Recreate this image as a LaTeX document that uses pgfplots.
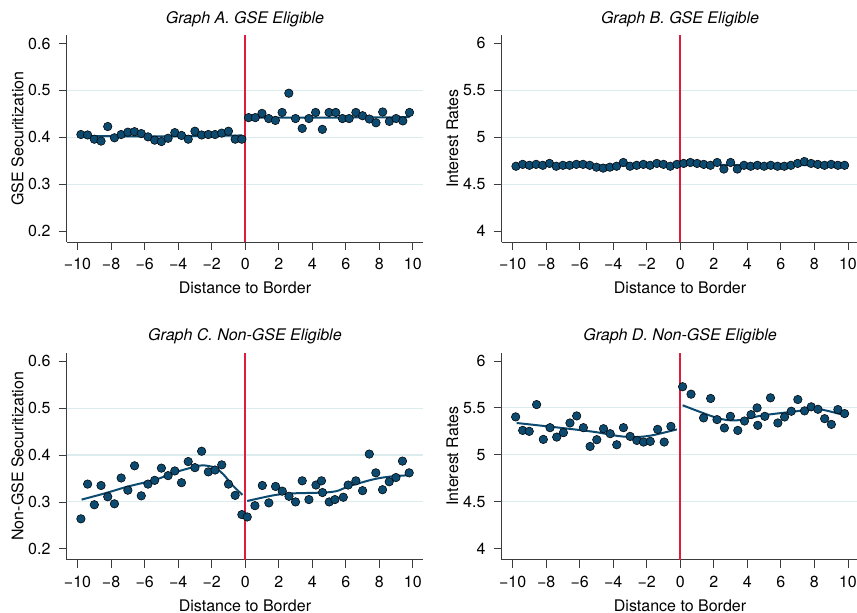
\documentclass[12pt,border=0pt]{standalone}
\usepackage{fontspec}
\setmainfont{TeX Gyre Heros}
\usepackage{pgfplots}
\pgfplotsset{compat=1.18}
\definecolor{dot}{RGB}{12,74,112}
\definecolor{gridc}{RGB}{220,235,238}
\definecolor{axc}{RGB}{60,60,60}
\definecolor{vred}{RGB}{222,28,62}

\pgfplotsset{
 panel/.style={
  scale only axis, width=267.45pt, height=155.25pt,
  anchor=north west,
  xmin=-10.65, xmax=10.62,
  axis x line*=bottom, axis y line*=left,
  axis line style={-, axc, line width=0.6pt},
  tick align=outside, major tick length=6pt,
  tick style={axc, line width=0.6pt},
  xtick={-10,-8,...,10},
  xticklabels={−10,−8,−6,−4,−2,0,2,4,6,8,10},
  xticklabel style={anchor=base, inner sep=0pt, yshift=-14.75pt},
  yticklabel style={anchor=east, inner sep=0pt, xshift=-6pt},
  /pgf/number format/assume math mode=true,
  xlabel={Distance to Border},
  xlabel style={at={(axis description cs:0.5,-0.221)}, anchor=center},
  ylabel style={at={(axis description cs:-0.138,0.5)}, anchor=center},
  title style={at={(axis description cs:0.5,1.039)}, anchor=center, font=\itshape},
 },
 sec/.style={panel, ymin=0.177, ymax=0.618, ytick={0.2,0.3,0.4,0.5,0.6},
  yticklabels={0.2,0.3,0.4,0.5,0.6}},
 rate/.style={panel, ymin=3.883, ymax=6.088, ytick={4,4.5,5,5.5,6},
  yticklabels={4,4.5,5,5.5,6}},
 pts/.style={only marks, mark=*, mark size=3.2pt, mark options={draw=none, fill=dot}},
 fit/.style={color=dot, line width=1.5pt, smooth, no marks},
 gl/.style={color=gridc, line width=0.8pt, forget plot, no marks},
 vl/.style={color=vred, line width=1.3pt, forget plot, no marks},
}

\begin{document}
\begin{tikzpicture}
% ---------------- Graph A
\begin{axis}[sec, at={(50.0pt,-26.25pt)}, title={Graph A. GSE Eligible}, ylabel={GSE Securitization}]
\addplot[gl] coordinates {(-10.65,0.3) (10.62,0.3)};
\addplot[gl] coordinates {(-10.65,0.4) (10.62,0.4)};
\addplot[gl] coordinates {(-10.65,0.5) (10.62,0.5)};
\addplot[vl] coordinates {(0,0.177) (0,0.618)};
\addplot[pts] table[row sep=\\] {
x y\\
-9.8 0.406\\ -9.4 0.405\\ -9.0 0.396\\ -8.6 0.392\\ -8.2 0.423\\
-7.8 0.399\\ -7.4 0.406\\ -7.0 0.411\\ -6.6 0.412\\ -6.2 0.408\\
-5.8 0.401\\ -5.4 0.394\\ -5.0 0.391\\ -4.6 0.398\\ -4.2 0.410\\
-3.8 0.404\\ -3.4 0.396\\ -3.0 0.413\\ -2.6 0.405\\ -2.2 0.406\\
-1.8 0.406\\ -1.4 0.409\\ -1.0 0.413\\ -0.6 0.396\\ -0.2 0.396\\
};
\addplot[pts] table[row sep=\\] {
x y\\
0.2 0.442\\ 0.6 0.442\\ 1.0 0.451\\ 1.4 0.440\\ 1.8 0.436\\
2.2 0.453\\ 2.6 0.494\\ 3.0 0.440\\ 3.4 0.419\\ 3.8 0.440\\
4.2 0.453\\ 4.6 0.417\\ 5.0 0.453\\ 5.4 0.453\\ 5.8 0.440\\
6.2 0.440\\ 6.6 0.453\\ 7.0 0.446\\ 7.4 0.439\\ 7.8 0.431\\
8.2 0.454\\ 8.6 0.434\\ 9.0 0.440\\ 9.4 0.435\\ 9.8 0.453\\
};
\addplot[fit] coordinates {(-9.8,0.403) (-5,0.402) (-0.2,0.404)};
\addplot[fit] coordinates {(0.2,0.442) (5,0.442) (9.8,0.443)};
\end{axis}
% ---------------- Graph B
\begin{axis}[rate, at={(376.3pt,-26.25pt)}, title={Graph B. GSE Eligible}, ylabel={Interest Rates}]
\addplot[gl] coordinates {(-10.65,4.5) (10.62,4.5)};
\addplot[gl] coordinates {(-10.65,5) (10.62,5)};
\addplot[gl] coordinates {(-10.65,5.5) (10.62,5.5)};
\addplot[vl] coordinates {(0,3.883) (0,6.088)};
\addplot[pts] table[row sep=\\] {
x y\\
-9.8 4.69\\ -9.4 4.71\\ -9.0 4.70\\ -8.6 4.71\\ -8.2 4.70\\
-7.8 4.72\\ -7.4 4.69\\ -7.0 4.70\\ -6.6 4.70\\ -6.2 4.71\\
-5.8 4.71\\ -5.4 4.70\\ -5.0 4.68\\ -4.6 4.67\\ -4.2 4.68\\
-3.8 4.69\\ -3.4 4.73\\ -3.0 4.69\\ -2.6 4.70\\ -2.2 4.71\\
-1.8 4.70\\ -1.4 4.72\\ -1.0 4.71\\ -0.6 4.69\\ -0.2 4.71\\
};
\addplot[pts] table[row sep=\\] {
x y\\
0.2 4.72\\ 0.6 4.73\\ 1.0 4.72\\ 1.4 4.71\\ 1.8 4.70\\
2.2 4.73\\ 2.6 4.66\\ 3.0 4.73\\ 3.4 4.66\\ 3.8 4.70\\
4.2 4.69\\ 4.6 4.70\\ 5.0 4.69\\ 5.4 4.70\\ 5.8 4.69\\
6.2 4.69\\ 6.6 4.70\\ 7.0 4.72\\ 7.4 4.74\\ 7.8 4.72\\
8.2 4.71\\ 8.6 4.70\\ 9.0 4.71\\ 9.4 4.70\\ 9.8 4.70\\
};
\addplot[fit] coordinates {(-9.8,4.700) (-5,4.698) (-0.2,4.705)};
\addplot[fit] coordinates {(0.2,4.712) (5,4.700) (9.8,4.705)};
\end{axis}
% ---------------- Graph C
\begin{axis}[sec, at={(50.0pt,-264.5pt)}, title={Graph C. Non-GSE Eligible}, ylabel={Non-GSE Securitization}]
\addplot[gl] coordinates {(-10.65,0.3) (10.62,0.3)};
\addplot[gl] coordinates {(-10.65,0.4) (10.62,0.4)};
\addplot[gl] coordinates {(-10.65,0.5) (10.62,0.5)};
\addplot[vl] coordinates {(0,0.177) (0,0.618)};
\addplot[pts] table[row sep=\\] {
x y\\
-9.8 0.264\\ -9.4 0.338\\ -9.0 0.294\\ -8.6 0.335\\ -8.2 0.311\\
-7.8 0.296\\ -7.4 0.351\\ -7.0 0.325\\ -6.6 0.377\\ -6.2 0.313\\
-5.8 0.338\\ -5.4 0.346\\ -5.0 0.372\\ -4.6 0.356\\ -4.2 0.366\\
-3.8 0.341\\ -3.4 0.386\\ -3.0 0.373\\ -2.6 0.408\\ -2.2 0.364\\
-1.8 0.368\\ -1.4 0.379\\ -1.0 0.338\\ -0.6 0.314\\ -0.2 0.273\\
};
\addplot[pts] table[row sep=\\] {
x y\\
0.12 0.268\\ 0.58 0.292\\ 1.02 0.335\\ 1.41 0.298\\ 1.81 0.333\\
2.21 0.323\\ 2.61 0.312\\ 3.00 0.300\\ 3.40 0.345\\ 3.80 0.305\\
4.22 0.336\\ 4.55 0.345\\ 4.61 0.320\\ 5.01 0.300\\ 5.35 0.305\\
5.85 0.310\\ 6.14 0.336\\ 6.60 0.345\\ 7.00 0.324\\ 7.40 0.402\\
7.79 0.362\\ 8.19 0.326\\ 8.59 0.343\\ 8.99 0.352\\ 9.38 0.387\\
9.78 0.362\\
};
\addplot[fit] coordinates {(-9.76,0.305) (-8.4,0.318) (-6.98,0.333) (-5.38,0.347) (-4.19,0.363) (-3.0,0.375) (-2.5,0.378) (-1.81,0.373) (-1.31,0.359) (-0.72,0.334) (-0.16,0.315)};
\addplot[fit] coordinates {(0.12,0.302) (1.67,0.314) (2.66,0.318) (4.65,0.320) (5.45,0.323) (6.24,0.334) (7.63,0.348) (8.63,0.354) (9.82,0.357)};
\end{axis}
% ---------------- Graph D
\begin{axis}[rate, at={(376.3pt,-264.5pt)}, title={Graph D. Non-GSE Eligible}, ylabel={Interest Rates}]
\addplot[gl] coordinates {(-10.65,4.5) (10.62,4.5)};
\addplot[gl] coordinates {(-10.65,5) (10.62,5)};
\addplot[gl] coordinates {(-10.65,5.5) (10.62,5.5)};
\addplot[vl] coordinates {(0,3.883) (0,6.088)};
\addplot[pts] table[row sep=\\] {
x y\\
-9.82 5.404\\ -9.40 5.260\\ -9.01 5.250\\ -8.57 5.535\\ -8.17 5.164\\
-7.77 5.289\\ -7.37 5.189\\ -6.97 5.236\\ -6.58 5.339\\ -6.18 5.414\\
-5.78 5.289\\ -5.38 5.089\\ -4.98 5.161\\ -4.58 5.278\\ -4.18 5.225\\
-3.79 5.107\\ -3.39 5.289\\ -2.99 5.196\\ -2.59 5.153\\ -2.19 5.136\\
-1.79 5.143\\ -1.35 5.271\\ -0.96 5.136\\ -0.56 5.303\\
};
\addplot[pts] table[row sep=\\] {
x y\\
0.14 5.725\\ 0.64 5.646\\ 1.39 5.393\\ 1.81 5.600\\ 2.19 5.375\\
2.63 5.286\\ 2.99 5.410\\ 3.43 5.260\\ 3.83 5.360\\ 4.22 5.428\\
4.58 5.500\\ 4.62 5.314\\ 5.04 5.410\\ 5.38 5.607\\ 5.82 5.339\\
6.22 5.403\\ 6.62 5.464\\ 7.01 5.589\\ 7.41 5.468\\ 7.81 5.511\\
8.21 5.485\\ 8.61 5.385\\ 9.01 5.324\\ 9.40 5.482\\ 9.80 5.439\\
};
\addplot[fit] coordinates {(-9.76,5.339) (-7.07,5.286) (-5.08,5.243) (-3.69,5.200) (-2.69,5.189) (-1.69,5.207) (-0.2,5.271)};
\addplot[fit] coordinates {(0.14,5.528) (2.19,5.393) (3.35,5.367) (4.95,5.421) (6.95,5.464) (8.15,5.490) (9.80,5.421)};
\end{axis}
\pgfresetboundingbox
\path[use as bounding box] (0,0) rectangle (642.75pt,-459.75pt);
\end{tikzpicture}
\end{document}
